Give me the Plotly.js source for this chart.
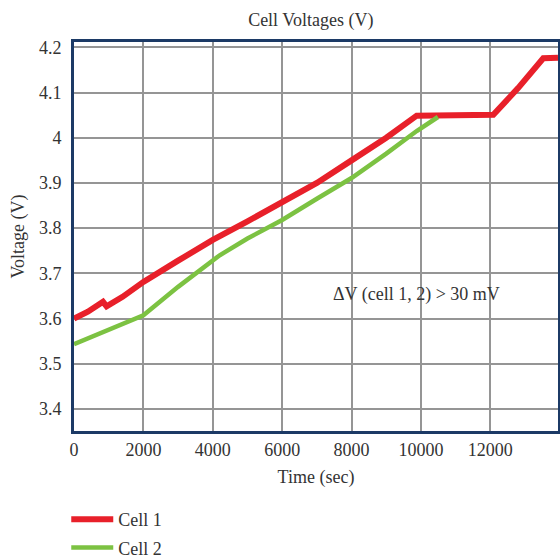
<!DOCTYPE html>
<html>
<head>
<meta charset="utf-8">
<script src="https://cdn.plot.ly/plotly-3.0.1.min.js"></script>
<style>html,body{margin:0;padding:0;background:#fff;}#chart{width:560px;height:560px;}</style>
</head>
<body>
<div id="chart"></div>
<script>
const cell1Time = [0, 400, 836, 940, 1400, 2000, 3000, 4000, 5000, 6000, 6800, 7000, 8000, 9000, 9877, 10500, 11500, 11840, 12085, 12800, 13525, 13950];
const cell1Volt = [3.600, 3.615, 3.637, 3.627, 3.648, 3.681, 3.728, 3.774, 3.815, 3.858, 3.890, 3.900, 3.950, 4.000, 4.049, 4.050, 4.050, 4.051, 4.051, 4.110, 4.176, 4.177];
const cell2Time = [0, 1000, 2000, 3000, 4000, 4200, 5000, 6000, 7000, 8000, 9000, 9877, 10490];
const cell2Volt = [3.543, 3.575, 3.607, 3.670, 3.730, 3.740, 3.777, 3.818, 3.865, 3.911, 3.965, 4.015, 4.046];
const xTicks = [0, 2000, 4000, 6000, 8000, 10000, 12000];
const yTicks = [3.4, 3.5, 3.6, 3.7, 3.8, 3.9, 4.0, 4.1, 4.2];
const yTickText = ['3.4', '3.5', '3.6', '3.7', '3.8', '3.9', '4', '4.1', '4.2'];

const FONT = 'Liberation Serif, DejaVu Serif, serif';
const TXT = '#333';
const traces = [
  {x: cell1Time, y: cell1Volt, name: 'Cell 1', mode: 'lines', legendgroup: 'a',
   line: {color: '#e8202a', width: 6}},
  {x: cell2Time, y: cell2Volt, name: 'Cell 2', mode: 'lines', legendgroup: 'b',
   line: {color: '#7cc242', width: 4.5}}
];
const layout = {
  width: 560, height: 560,
  margin: {l: 74, r: 2, t: 42, b: 129, autoexpand: false},
  paper_bgcolor: '#fff', plot_bgcolor: '#fff',
  font: {family: FONT, size: 18, color: TXT},
  title: {text: 'Cell Voltages (V)', x: 0.555, xanchor: 'center', y: 0.965, yanchor: 'middle',
          font: {family: FONT, size: 18, color: TXT}},
  xaxis: {range: [0, 13950], tickvals: xTicks, ticktext: xTicks.map(String),
          showgrid: true, gridcolor: '#959595', gridwidth: 2,
          showline: true, mirror: true, linecolor: '#1c3a66', linewidth: 3,
          zeroline: false, ticks: '', ticklen: 0, ticklabelstandoff: 0,
          tickfont: {family: FONT, size: 18, color: TXT},
          title: {text: 'Time (sec)', standoff: 12, font: {family: FONT, size: 18, color: TXT}}},
  yaxis: {range: [3.351, 4.212], tickvals: yTicks, ticktext: yTickText,
          showgrid: true, gridcolor: '#959595', gridwidth: 2,
          showline: true, mirror: true, linecolor: '#1c3a66', linewidth: 3,
          zeroline: false, ticks: '', ticklen: 0, ticklabelstandoff: 6,
          tickfont: {family: FONT, size: 18, color: TXT},
          title: {text: 'Voltage (V)', standoff: 10, font: {family: FONT, size: 18, color: TXT}}},
  showlegend: true,
  legend: {x: -0.016, xanchor: 'left', y: -0.18, yanchor: 'top', orientation: 'v',
           traceorder: 'grouped', tracegroupgap: 2, itemwidth: 42,
           font: {family: FONT, size: 18, color: TXT}, bgcolor: 'rgba(0,0,0,0)'},
  annotations: [{x: 9885, y: 3.654, xref: 'x', yref: 'y', showarrow: false,
                 text: 'ΔV (cell 1, 2) > 30 mV', font: {family: FONT, size: 18, color: TXT}}]
};
Plotly.newPlot('chart', traces, layout, {displayModeBar: false, staticPlot: true});
</script>
</body>
</html>
